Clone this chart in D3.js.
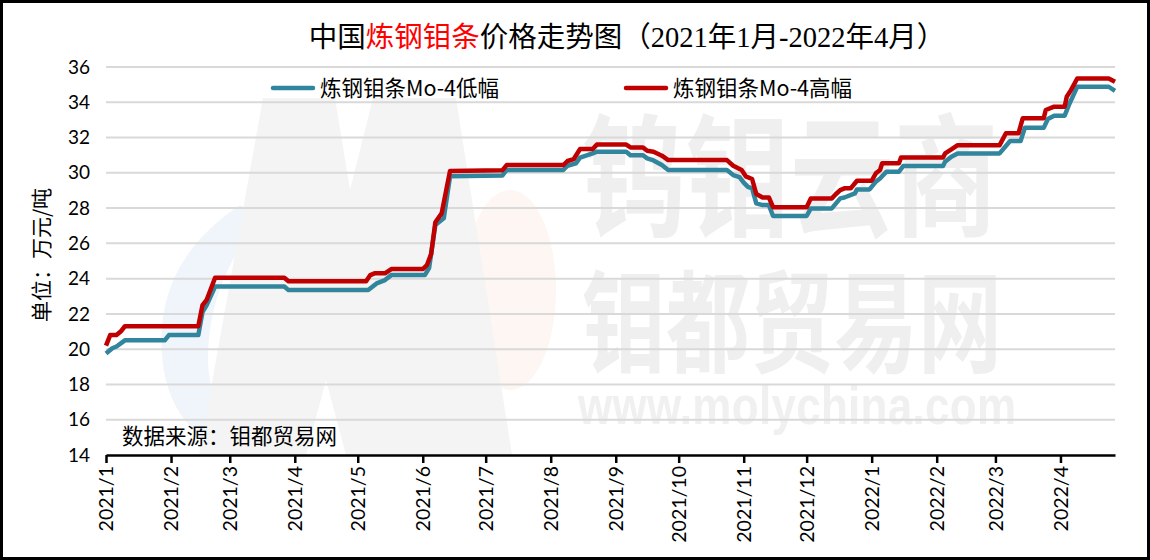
<!DOCTYPE html>
<html><head><meta charset="utf-8">
<script src="https://cdn.jsdelivr.net/npm/d3@7"></script>
<style>html,body{margin:0;padding:0;background:#fff;}svg{display:block;}</style>
</head><body>
<svg id="chart" width="1150" height="560"></svg>
<script>
// ---------- DATA ----------
const monthTicks = ["2021/1","2021/2","2021/3","2021/4","2021/5","2021/6","2021/7","2021/8","2021/9","2021/10","2021/11","2021/12","2022/1","2022/2","2022/3","2022/4"];
const yTicks = [14,16,18,20,22,24,26,28,30,32,34,36];
const seriesNames = ["炼钢钼条Mo-4低幅","炼钢钼条Mo-4高幅"];

const lowDates = ["2021-01-01","2021-01-04","2021-01-06","2021-01-10","2021-01-29","2021-01-31","2021-02-14","2021-02-16","2021-02-18","2021-02-22","2021-03-27","2021-03-29","2021-05-06","2021-05-10","2021-05-14","2021-05-17","2021-06-02","2021-06-04","2021-06-05","2021-06-07","2021-06-11","2021-06-14","2021-07-09","2021-07-11","2021-08-07","2021-08-09","2021-08-13","2021-08-15","2021-08-21","2021-08-23","2021-09-06","2021-09-08","2021-09-14","2021-09-16","2021-09-19","2021-09-23","2021-09-26","2021-10-24","2021-10-27","2021-10-30","2021-11-01","2021-11-03","2021-11-05","2021-11-07","2021-11-10","2021-11-13","2021-11-15","2021-12-01","2021-12-03","2021-12-13","2021-12-15","2021-12-17","2021-12-19","2021-12-24","2021-12-25","2021-12-31","2022-01-03","2022-01-05","2022-01-08","2022-01-14","2022-01-16","2022-02-04","2022-02-05","2022-02-08","2022-02-11","2022-03-03","2022-03-08","2022-03-13","2022-03-15","2022-03-24","2022-03-26","2022-03-29","2022-04-03","2022-04-05","2022-04-09","2022-04-24","2022-04-27"];
const lowValues = [19.75,20.05,20.15,20.5,20.5,20.8,20.8,22.1,22.5,23.55,23.55,23.35,23.35,23.73,23.92,24.2,24.2,24.6,25.4,27.04,27.42,29.8,29.85,30.16,30.16,30.4,30.54,30.86,31.1,31.2,31.2,31.0,31.0,30.82,30.7,30.44,30.16,30.16,29.87,29.75,29.44,29.2,29.12,28.27,28.17,28.17,27.55,27.55,27.98,27.98,28.27,28.55,28.6,28.83,29.06,29.06,29.5,29.68,30.06,30.06,30.38,30.38,30.63,30.91,31.1,31.1,31.8,31.8,32.55,32.55,33.05,33.24,33.24,33.84,34.88,34.88,34.64];

const highDates = ["2021-01-01","2021-01-03","2021-01-06","2021-01-08","2021-01-10","2021-02-14","2021-02-16","2021-02-18","2021-02-22","2021-03-27","2021-03-29","2021-05-05","2021-05-07","2021-05-09","2021-05-14","2021-05-17","2021-06-01","2021-06-03","2021-06-05","2021-06-07","2021-06-10","2021-06-14","2021-07-09","2021-07-11","2021-08-07","2021-08-09","2021-08-12","2021-08-15","2021-08-21","2021-08-23","2021-09-06","2021-09-08","2021-09-14","2021-09-16","2021-09-19","2021-09-23","2021-09-26","2021-10-24","2021-10-27","2021-10-31","2021-11-02","2021-11-05","2021-11-07","2021-11-10","2021-11-13","2021-11-15","2021-12-01","2021-12-03","2021-12-13","2021-12-15","2021-12-17","2021-12-19","2021-12-22","2021-12-25","2022-01-01","2022-01-03","2022-01-05","2022-01-06","2022-01-14","2022-01-15","2022-02-04","2022-02-05","2022-02-08","2022-02-11","2022-03-03","2022-03-06","2022-03-12","2022-03-14","2022-03-24","2022-03-25","2022-03-29","2022-04-03","2022-04-04","2022-04-06","2022-04-09","2022-04-24","2022-04-27"];
const highValues = [20.2,20.8,20.8,21.0,21.3,21.3,22.5,22.8,24.05,24.05,23.85,23.85,24.2,24.3,24.3,24.54,24.54,24.77,25.4,27.2,27.7,30.1,30.15,30.44,30.44,30.67,30.78,31.35,31.35,31.6,31.6,31.44,31.44,31.25,31.2,30.97,30.72,30.72,30.4,30.16,29.8,29.65,28.8,28.6,28.6,28.05,28.05,28.55,28.55,28.8,29.02,29.12,29.12,29.55,29.55,29.97,30.16,30.54,30.54,30.87,30.87,31.1,31.33,31.57,31.57,32.24,32.24,33.09,33.09,33.56,33.75,33.75,34.31,34.69,35.35,35.35,35.16];

// ---------- CHART ----------
(function () {
const svg = d3.select("#chart");
const W = 1150, H = 560;
const pLeft = 106, pRight = 1115, pTop = 67, pBottom = 455;
const parseDay = d3.utcParse("%Y-%m-%d");
const parseMonth = d3.utcParse("%Y/%m");
const x = d3.scaleUtc().domain([parseDay("2021-01-01"), parseDay("2022-04-27")]).range([pLeft, pRight]);
const y = d3.scaleLinear().domain([14, 36]).range([pBottom, pTop]);

svg.append("rect").attr("width", W).attr("height", H).attr("fill", "#fff");

// watermark
const wm = svg.append("g").attr("class", "watermark");
wm.append("path")
  .attr("d", "M240,205 Q150,265 163,365 Q172,430 232,455 L262,455 Q205,420 208,350 Q212,275 262,218 Z")
  .attr("fill", "#f0f4fb");
wm.append("ellipse").attr("cx", 510).attr("cy", 290).attr("rx", 46).attr("ry", 100).attr("fill", "#fdf6f2");
wm.append("path")
  .attr("d", "M199,455 L263,98 L335,98 L350,190 L373,98 L456,98 L512,455 L346,455 L326,380 L306,455 Z")
  .attr("fill", "#f4f4f4");
wm.append("text").text("钨钼云商").attr("x", 582).attr("y", 0)
  .attr("transform", "translate(0,226) scale(1,1.28)")
  .style("font-family", "'Noto Sans CJK SC'").style("font-weight", 700).style("font-size", "104px")
  .attr("fill", "#efefef");
wm.append("text").text("钼都贸易网").attr("x", 582).attr("y", 0)
  .attr("transform", "translate(0,364) scale(1,1.32)")
  .style("font-family", "'Noto Sans CJK SC'").style("font-weight", 700).style("font-size", "84px")
  .attr("fill", "#efefef");
wm.append("text").text("www.molychina.com").attr("x", 578).attr("y", 0)
  .attr("transform", "translate(0,424) scale(1,1.2)")
  .style("font-family", "'Liberation Sans'").style("font-weight", 700).style("font-size", "44px")
  .attr("textLength", 438).attr("fill", "#f0f0f0");

// gridlines
svg.append("g").selectAll("line").data(yTicks.filter(v => v > 14)).join("line")
  .attr("x1", pLeft).attr("x2", pRight)
  .attr("y1", d => y(d)).attr("y2", d => y(d))
  .attr("stroke", "#d9d9d9").attr("stroke-width", 2);

// y axis
const yAxis = svg.append("g").attr("transform", `translate(${pLeft},0)`)
  .call(d3.axisLeft(y).tickValues(yTicks).tickSize(0).tickPadding(16));
yAxis.select(".domain").remove();
yAxis.selectAll("text").style("font-family", "Lato, 'Liberation Sans'").style("font-size", "19px").attr("fill", "#000");

// x axis
const tickDates = monthTicks.map(m => parseMonth(m));
const xAxis = svg.append("g").attr("transform", `translate(0,${pBottom})`)
  .call(d3.axisBottom(x).tickValues(tickDates).tickFormat((d, i) => monthTicks[i]).tickSize(8).tickSizeOuter(0));
xAxis.select(".domain").attr("stroke", "#000").attr("stroke-width", 2.5);
xAxis.selectAll(".tick line").attr("stroke", "#000").attr("stroke-width", 2.5);
xAxis.selectAll("text")
  .attr("transform", "rotate(-90)").attr("x", -11).attr("y", 0).attr("dy", "0.35em")
  .style("text-anchor", "end")
  .style("font-family", "Lato, 'Liberation Sans'").style("font-size", "19.5px").attr("fill", "#000");

// lines
const lowData = lowDates.map((d, i) => ({ date: parseDay(d), value: lowValues[i] }));
const highData = highDates.map((d, i) => ({ date: parseDay(d), value: highValues[i] }));
const line = d3.line().x(d => x(d.date)).y(d => y(d.value));
svg.append("path").datum(lowData).attr("d", line)
  .attr("fill", "none").attr("stroke", "#31859C").attr("stroke-width", 4.5).attr("stroke-linejoin", "round");
svg.append("path").datum(highData).attr("d", line)
  .attr("fill", "none").attr("stroke", "#C00000").attr("stroke-width", 4.5).attr("stroke-linejoin", "round");

// legend
const legendItems = [
  { name: seriesNames[0], color: "#31859C", x0: 273 },
  { name: seriesNames[1], color: "#C00000", x0: 626 }
];
const lg = svg.append("g");
legendItems.forEach(it => {
  lg.append("line").attr("x1", it.x0).attr("x2", it.x0 + 40).attr("y1", 88).attr("y2", 88)
    .attr("stroke", it.color).attr("stroke-width", 4.5).attr("stroke-linecap", "round");
  lg.append("text").text(it.name).attr("x", it.x0 + 47).attr("y", 95.5)
    .style("font-family", "'Noto Sans CJK SC'").style("font-size", "21.5px").attr("fill", "#000");
});

// title
const title = svg.append("text").attr("x", 627).attr("y", 47).attr("text-anchor", "middle")
  .style("font-family", "'Liberation Serif', 'Noto Sans CJK SC'").style("font-size", "28.5px").attr("fill", "#000");
title.append("tspan").text("中国");
title.append("tspan").text("炼钢钼条").attr("fill", "#FF0000");
title.append("tspan").text("价格走势图（2021年1月-2022年4月）");

// y axis title
svg.append("text").text("单位：万元/吨")
  .attr("transform", "translate(49,255) rotate(-90)").attr("text-anchor", "middle")
  .style("font-family", "'Noto Sans CJK SC'").style("font-size", "21px").attr("fill", "#000");

// source
svg.append("text").text("数据来源：钼都贸易网").attr("x", 122).attr("y", 443.5)
  .style("font-family", "'Noto Sans CJK SC'").style("font-size", "21.5px").attr("fill", "#000");

// border
svg.append("rect").attr("x", 1.5).attr("y", 1.5).attr("width", W - 3).attr("height", H - 3)
  .attr("fill", "none").attr("stroke", "#000").attr("stroke-width", 3);
})();
</script>
</body></html>
